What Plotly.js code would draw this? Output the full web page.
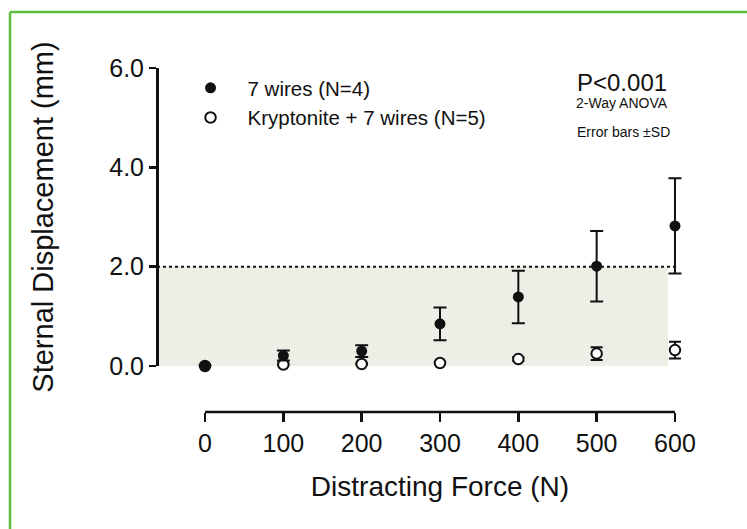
<!DOCTYPE html>
<html>
<head>
<meta charset="utf-8">
<script src="https://cdn.plot.ly/plotly-3.0.1.min.js"></script>
<style>
  html, body { margin: 0; padding: 0; background: #ffffff; }
  #chart { width: 747px; height: 529px; }
</style>
</head>
<body>
<div id="chart"></div>
<script>
// ---- data ----
const forceN = [0, 100, 200, 300, 400, 500, 600];
const wires7Mean = [0.0, 0.21, 0.30, 0.85, 1.39, 2.01, 2.82];
const wires7SD   = [0.0, 0.10, 0.12, 0.33, 0.53, 0.71, 0.96];
const kryptMean  = [0.0, 0.03, 0.04, 0.06, 0.14, 0.25, 0.32];
const kryptSD    = [0.0, 0.02, 0.02, 0.02, 0.04, 0.13, 0.17];
const seriesNames = ['7 wires (N=4)', 'Kryptonite + 7 wires (N=5)'];
const yTickVals = [0, 2, 4, 6];
const yTickText = ['0.0', '2.0', '4.0', '6.0'];
const threshold = 2.0;
const statText = ['P<0.001', '2-Way ANOVA', 'Error bars ±SD'];

const FONT = 'Liberation Sans, Arial, Helvetica, sans-serif';
const INK = '#111111';

// open series first so the filled series is drawn on top of it
const traces = [
  {
    x: forceN, y: kryptMean, name: seriesNames[1], type: 'scatter', mode: 'markers',
    marker: { symbol: 'circle', size: 10.5, color: '#ffffff', line: { color: INK, width: 2 } },
    error_y: { type: 'data', array: kryptSD, visible: true, color: INK, thickness: 2, width: 6 },
    cliponaxis: false, legendgroup: 'b', legendrank: 2
  },
  {
    x: forceN, y: wires7Mean, name: seriesNames[0], type: 'scatter', mode: 'markers',
    marker: { symbol: 'circle', size: 11, color: INK },
    error_y: { type: 'data', array: wires7SD, visible: true, color: INK, thickness: 2, width: 6.5 },
    cliponaxis: false, legendgroup: 'a', legendrank: 1
  }
];

// paper: left = 157px (y axis), right = 723px, top = 68px, bottom = 412px (x axis line)
const W = 566, H = 344, L = 157, T = 68;
const px = v => (v - L) / W;
const py = v => (T + H - v) / H;
const xRange = [-61.3, 661.3];
const layout = {
  width: 747, height: 529,
  margin: { l: L, r: 747 - L - W, t: T, b: 529 - T - H, pad: 0 },
  paper_bgcolor: '#ffffff', plot_bgcolor: 'rgba(0,0,0,0)',
  font: { family: FONT, color: INK },
  showlegend: true,
  legend: {
    x: 0.0292, y: 1.0, xanchor: 'left', yanchor: 'top',
    bgcolor: 'rgba(0,0,0,0)', font: { family: FONT, size: 20.5, color: INK },
    itemwidth: 64, tracegroupgap: 3, traceorder: 'normal'
  },
  xaxis: {
    range: xRange, domain: [0, 1], anchor: 'free', position: 0,
    showgrid: false, zeroline: false, showline: false,
    ticks: 'outside', ticklen: 9, tickwidth: 2.5, tickcolor: INK,
    tickvals: forceN, tickfont: { family: FONT, size: 25, color: INK },
    title: { text: 'Distracting Force (N)', font: { family: FONT, size: 28, color: INK }, standoff: 20 }
  },
  yaxis: {
    range: [0, 6], domain: [0.1337, 1], anchor: 'free', position: 0,
    showgrid: false, zeroline: false, showline: true, linecolor: INK, linewidth: 2.5,
    ticks: 'outside', ticklen: 7, tickwidth: 2.5, tickcolor: INK,
    tickvals: yTickVals, ticktext: yTickText, tickfont: { family: FONT, size: 25, color: INK },
    title: { text: 'Sternal Displacement (mm)', font: { family: FONT, size: 29, color: INK }, standoff: 46 }
  },
  shapes: [
    { type: 'rect', xref: 'paper', yref: 'y', x0: 0, x1: px(668), y0: -0.1, y1: threshold,
      fillcolor: '#efeee6', line: { width: 0 }, layer: 'below' },
    { type: 'line', xref: 'paper', yref: 'y', x0: 0, x1: px(675), y0: threshold, y1: threshold,
      line: { color: INK, width: 2, dash: 'dot' }, layer: 'below' },
    // x axis line spanning 0..600 N
    { type: 'line', xref: 'x', yref: 'paper', x0: forceN[0], x1: forceN[forceN.length - 1], y0: 0, y1: 0,
      line: { color: INK, width: 2.5 } },
    // green frame of the original figure
    { type: 'line', xref: 'paper', yref: 'paper', x0: px(10), x1: px(747), y0: py(12), y1: py(12),
      line: { color: '#5dbb3f', width: 2.5 } },
    { type: 'line', xref: 'paper', yref: 'paper', x0: px(10), x1: px(10), y0: py(12), y1: py(529),
      line: { color: '#5dbb3f', width: 2.5 } }
  ],
  annotations: [
    { xref: 'paper', yref: 'paper', x: px(622), y: py(83), text: statText[0],
      showarrow: false, font: { family: FONT, size: 24, color: INK }, xanchor: 'center', yanchor: 'middle' },
    { xref: 'paper', yref: 'paper', x: px(622), y: py(103), text: statText[1],
      showarrow: false, font: { family: FONT, size: 14, color: INK }, xanchor: 'center', yanchor: 'middle' },
    { xref: 'paper', yref: 'paper', x: px(623), y: py(132), text: statText[2],
      showarrow: false, font: { family: FONT, size: 14, color: INK }, xanchor: 'center', yanchor: 'middle' }
  ]
};

Plotly.newPlot('chart', traces, layout, { staticPlot: true, displayModeBar: false });
</script>
</body>
</html>
